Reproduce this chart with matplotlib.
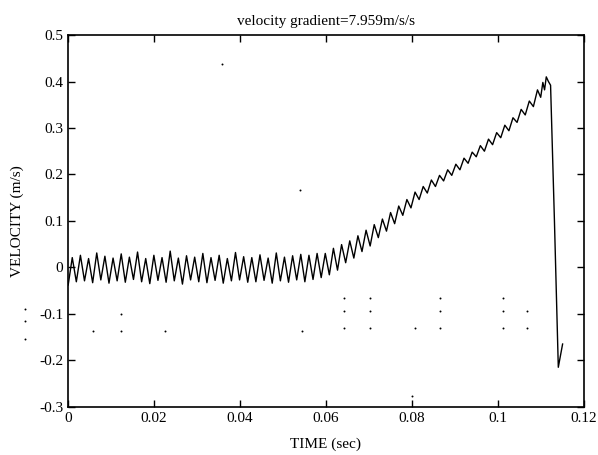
import numpy as np
import matplotlib
matplotlib.use("Agg")
import matplotlib.pyplot as plt

time_s = [0.0, 0.00095, 0.0019, 0.00285, 0.0038, 0.00475, 0.0057, 0.00665, 0.0076, 0.00855,
          0.0095, 0.01045, 0.0114, 0.01235, 0.0133, 0.01425, 0.0152, 0.01615, 0.0171, 0.01805,
          0.019, 0.01995, 0.0209, 0.02185, 0.0228, 0.02375, 0.0247, 0.02565, 0.0266, 0.02755,
          0.0285, 0.02945, 0.0304, 0.03135, 0.0323, 0.03325, 0.0342, 0.03515, 0.0361, 0.03705,
          0.038, 0.03895, 0.0399, 0.04085, 0.0418, 0.04275, 0.0437, 0.04465, 0.0456, 0.04655,
          0.0475, 0.04845, 0.0494, 0.05035, 0.0513, 0.05225, 0.0532, 0.05415, 0.0551, 0.05605,
          0.057, 0.05795, 0.0589, 0.05985, 0.0608, 0.06175, 0.0627, 0.06365, 0.0646, 0.06555,
          0.0665, 0.06745, 0.0684, 0.06935, 0.0703, 0.07125, 0.0722, 0.07315, 0.0741, 0.07505,
          0.076, 0.07695, 0.0779, 0.07885, 0.0798, 0.08075, 0.0817, 0.08265, 0.0836, 0.08455,
          0.0855, 0.08645, 0.0874, 0.08835, 0.0893, 0.09025, 0.0912, 0.09215, 0.0931, 0.09405,
          0.095, 0.09595, 0.0969, 0.09785, 0.0988, 0.09975, 0.1007, 0.10165, 0.1026, 0.10355,
          0.1045, 0.10545, 0.1064, 0.10735, 0.1083, 0.10925, 0.1100,
          0.1105, 0.1109, 0.1113, 0.1118, 0.1123, 0.1132, 0.1141, 0.1146, 0.1151]

velocity = [-0.038, 0.021, -0.031, 0.026, -0.029, 0.019, -0.033, 0.031, -0.027, 0.024,
            -0.034, 0.020, -0.029, 0.029, -0.032, 0.022, -0.026, 0.033, -0.031, 0.019,
            -0.035, 0.026, -0.028, 0.021, -0.032, 0.035, -0.029, 0.020, -0.036, 0.025,
            -0.027, 0.022, -0.031, 0.030, -0.033, 0.021, -0.028, 0.026, -0.034, 0.019,
            -0.029, 0.032, -0.027, 0.023, -0.032, 0.021, -0.031, 0.027, -0.028, 0.020,
            -0.034, 0.031, -0.029, 0.022, -0.032, 0.025, -0.027, 0.028, -0.031, 0.026,
            -0.026, 0.030, -0.022, 0.030, -0.016, 0.041, -0.006, 0.049, 0.010, 0.057,
            0.020, 0.068, 0.034, 0.080, 0.046, 0.092, 0.064, 0.104, 0.078, 0.118,
            0.094, 0.132, 0.112, 0.146, 0.128, 0.162, 0.146, 0.174, 0.160, 0.188,
            0.174, 0.198, 0.186, 0.210, 0.198, 0.222, 0.210, 0.235, 0.224, 0.248,
            0.238, 0.262, 0.250, 0.276, 0.264, 0.290, 0.279, 0.306, 0.294, 0.322,
            0.312, 0.340, 0.328, 0.358, 0.346, 0.382, 0.366,
            0.398, 0.382, 0.410, 0.400, 0.392, 0.100, -0.215, -0.190, -0.165]

# stray specks on the scan
speck_t = [-0.010, -0.010, -0.010, 0.0057, 0.0124, 0.0124, 0.0225, 0.0357, 0.0539, 0.0544,
           0.0642, 0.0642, 0.0642, 0.0702, 0.0702, 0.0702, 0.0807, 0.0800,
           0.0865, 0.0865, 0.0865, 0.1012, 0.1012, 0.1012, 0.1067, 0.1067]
speck_v = [-0.089, -0.115, -0.154, -0.136, -0.100, -0.136, -0.136, 0.437, 0.167, -0.136,
           -0.066, -0.094, -0.130, -0.066, -0.094, -0.130, -0.130, -0.277,
           -0.066, -0.094, -0.130, -0.066, -0.094, -0.130, -0.094, -0.130]

plt.rcParams['font.family'] = ['Liberation Serif', 'DejaVu Serif']

fig = plt.figure(figsize=(5.98, 4.55), dpi=100)
ax = fig.add_axes([0.114, 0.106, 0.862, 0.817])

ax.plot(time_s, velocity, color='black', linewidth=1.0)
ax.scatter(speck_t, speck_v, s=2, color='black', linewidths=0, clip_on=False)

ax.set_xlim(0, 0.12)
ax.set_ylim(-0.3, 0.5)
ax.set_xticks([0, 0.02, 0.04, 0.06, 0.08, 0.1, 0.12])
ax.set_xticklabels(['0', '0.02', '0.04', '0.06', '0.08', '0.1', '0.12'])
ax.set_yticks([-0.3, -0.2, -0.1, 0, 0.1, 0.2, 0.3, 0.4, 0.5])
ax.set_yticklabels(['-0.3', '-0.2', '-0.1', '0', '0.1', '0.2', '0.3', '0.4', '0.5'])
ax.tick_params(direction='in', top=True, right=True, length=5, width=1, labelsize=11)
for sp in ax.spines.values():
    sp.set_linewidth(1.2)

ax.set_title('velocity gradient=7.959m/s/s', fontsize=11, pad=7)
ax.set_xlabel('TIME (sec)', fontsize=11, labelpad=9)
ax.set_ylabel('VELOCITY (m/s)', fontsize=11)
ax.yaxis.set_label_coords(-0.085, 0.5)

fig.savefig('out.png', dpi=100)
